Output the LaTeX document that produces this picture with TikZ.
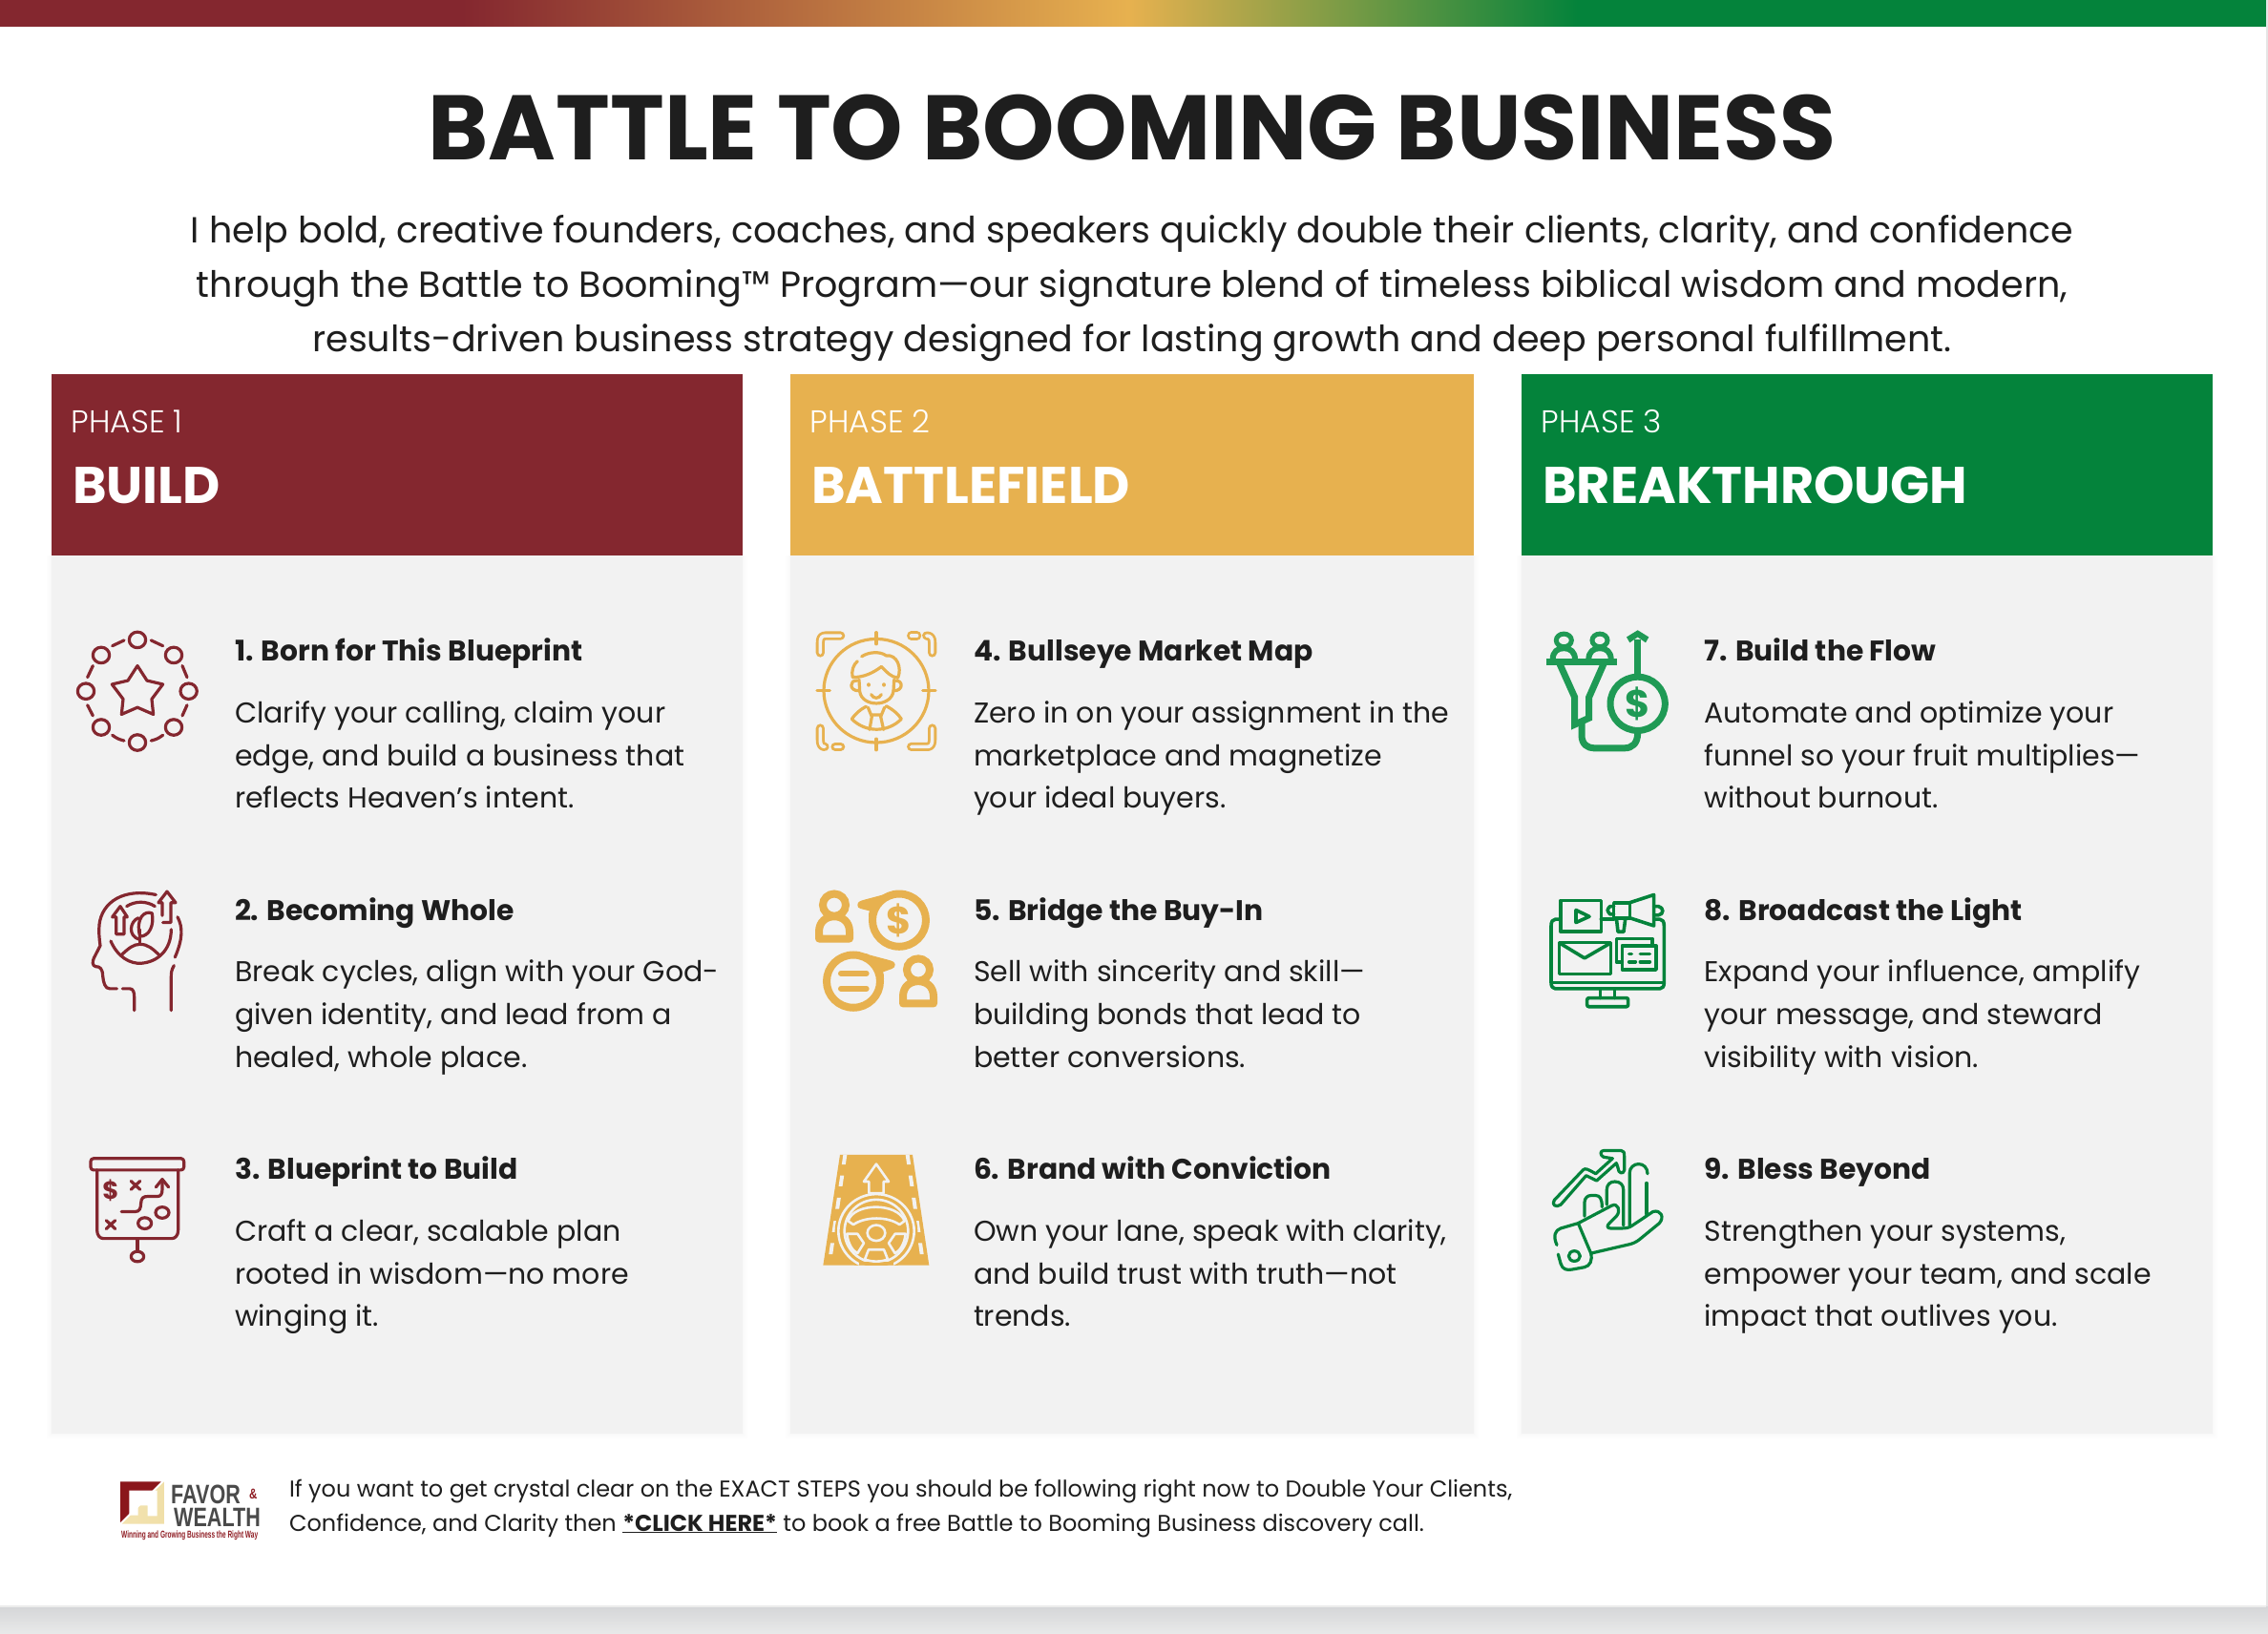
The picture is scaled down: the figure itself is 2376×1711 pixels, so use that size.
\documentclass[tikz,border=0pt]{standalone}
\usepackage{fontspec}
\setmainfont{Poppins}
\newfontfamily\popb{Poppins Bold}
\newfontfamily\popl{Poppins Light}
\newfontfamily\heros{Liberation Sans Bold}[FakeStretch=0.77]
\newfontfamily\herost{Liberation Sans Bold}[FakeStretch=0.62]
\definecolor{cred}{HTML}{84272F}
\definecolor{cgold}{HTML}{E7B14F}
\definecolor{cgreen}{HTML}{04833B}
\definecolor{cgreenb}{HTML}{1F9A55}
\definecolor{cpanel}{HTML}{F2F2F2}
\definecolor{cink}{HTML}{1E1E1E}
\definecolor{E5E5E5}{HTML}{E5E5E5}
\definecolor{D5D6D8}{HTML}{D5D6D8}
\definecolor{E8E9E9}{HTML}{E8E9E9}
\definecolor{ECECEC}{HTML}{ECECEC}
\definecolor{lgolda}{HTML}{F3E3B0}
\definecolor{lgoldb}{HTML}{DFAE35}
\definecolor{lgoldc}{HTML}{F0DFA8}
\definecolor{lred}{HTML}{8A161B}
\definecolor{lgray}{HTML}{4A4A4A}
\definecolor{ltag}{HTML}{8F1D24}
\pgfdeclarehorizontalshading{topbar}{100bp}{
  color(0bp)=(cred); color(35.2bp)=(cred); color(49.9bp)=(cgold); color(59.8bp)=(cgreen); color(100bp)=(cgreen)}
\newcommand\fs[1]{\fontsize{#1}{#1}\selectfont}
\tikzset{
  txt/.style={anchor=base west,inner sep=0pt,outer sep=0pt,text=cink},
  itemhead/.style={txt,font=\fs{29.75}\popb},
  itembody/.style={txt,font=\fs{30}},
  phaselab/.style={anchor=base west,inner sep=0pt,text=white,font=\fs{33}\popl},
  phasename/.style={anchor=base west,inner sep=0pt,text=white,font=\fs{54}\popb},
  subline/.style={anchor=base,inner sep=0pt,text=cink,font=\fs{38}},
  footline/.style={txt,font=\fs{24}},
  zA/.style={shift={(50pt,-620pt)},x=.3333pt,y=-.4847pt},
  zB/.style={shift={(830pt,-620pt)},x=.3333pt,y=-.4847pt},
  zC/.style={shift={(1600pt,-620pt)},x=.3333pt,y=-.4847pt},
  zL/.style={shift={(122pt,-1545pt)},x=.3333pt,y=-.3333pt},
  ic/.style={line width=3.2pt,line cap=round,line join=round,fill=none},
  hollow/.style={line width=2.8pt,double=cpanel,double distance=3.6pt,line cap=round,line join=round},
  icontxt/.style={inner sep=0pt,font=\popb},
}
\newcommand\stepitem[7]{%
  \node[itemhead] (#1t) at (#2,{#3-0.5}) {#4};
  \node[itembody] (#1a) at (#2,{#3+64}) {#5};
  \node[itembody] (#1b) at (#2,{#3+109}) {#6};
  \node[itembody] (#1c) at (#2,{#3+153.5}) {#7};
}
\newcommand\panel[5]{%
  \foreach \ee/\oo in {5/.006,3/.008,1/.01}{
    \fill[black,opacity=\oo] ({#1-\ee},{582}) rectangle ({#2+\ee},{1502+\ee});
  }
  \fill[cpanel] (#1,582) rectangle (#2,1502);
  \fill[#3] (#1,392) rectangle (#2,582);
  \node[phaselab] (#4l) at ({#1+20.5},453) {#5};
}
\begin{document}
\begin{tikzpicture}[x=1pt,y=-1pt]
\useasboundingbox (0,0) rectangle (2376,1711);
% page
\fill[white] (0,0) rectangle (2376,1711);
\shade[shading=topbar] (0,0) rectangle (2374,27.5);
\fill[E5E5E5] (2374,0) rectangle (2376,1683);
\shade[top color=D5D6D8,bottom color=E8E9E9] (0,1683) rectangle (2376,1711);
\fill[ECECEC] (0,1682) rectangle (2374,1684);
% title
\node[anchor=base,inner sep=0pt,text=cink,font=\fs{96}\popb] (title) at (1186,167) {BATTLE TO BOOMING BUSINESS};
\node[subline] (s1) at (1186,254.5) {I help bold, creative founders, coaches, and speakers quickly double their clients, clarity, and confidence};
\node[subline] (s2) at (1186,311.5) {through the Battle to Booming™ Program—our signature blend of timeless biblical wisdom and modern,};
\node[subline] (s3) at (1186,368.5) {results-driven business strategy designed for lasting growth and deep personal fulfillment.};
% panels
\panel{54}{778}{cred}{pa}{PHASE 1}
\panel{828}{1544}{cgold}{pb}{PHASE 2}
\panel{1594}{2318}{cgreen}{pc}{PHASE 3}
\node[phasename] (na) at (76,527) {BUILD};
\node[phasename] (nb) at (850,527) {BATTLEFIELD};
\node[phasename] (nc) at (1616,527) {BREAKTHROUGH};
% items
\stepitem{i1}{246}{693}{1. Born for This Blueprint}{Clarify your calling, claim your}{edge, and build a business that}{reflects Heaven’s intent.}
\stepitem{i2}{246}{964.5}{2. Becoming Whole}{Break cycles, align with your God-}{given identity, and lead from a}{healed, whole place.}
\stepitem{i3}{246}{1236}{3. Blueprint to Build}{Craft a clear, scalable plan}{rooted in wisdom—no more}{winging it.}
\stepitem{i4}{1020}{693}{4. Bullseye Market Map}{Zero in on your assignment in the}{marketplace and magnetize}{your ideal buyers.}
\stepitem{i5}{1020}{964.5}{5. Bridge the Buy-In}{Sell with sincerity and skill—}{building bonds that lead to}{better conversions.}
\stepitem{i6}{1020}{1236}{6. Brand with Conviction}{Own your lane, speak with clarity,}{and build trust with truth—not}{trends.}
\stepitem{i7}{1785.5}{693}{7. Build the Flow}{Automate and optimize your}{funnel so your fruit multiplies—}{without burnout.}
\stepitem{i8}{1785.5}{964.5}{8. Broadcast the Light}{Expand your influence, amplify}{your message, and steward}{visibility with vision.}
\stepitem{i9}{1785.5}{1236}{9. Bless Beyond}{Strengthen your systems,}{empower your team, and scale}{impact that outlives you.}
% footer
\node[footline] (f1) at (303,1568) {If you want to get crystal clear on the EXACT STEPS you should be following right now to Double Your Clients,};
\node[footline] (f2) at (303,1604) {Confidence, and Clarity then \underline{\popb *CLICK HERE*} to book a free Battle to Booming Business discovery call.};
% ---------- icon 1
\begin{scope}[zA,ic,draw=cred]
  \foreach \p in {(282,104),(168,137),(396,137),(120,215),(443,215),(168,293),(396,293),(282,326)}
    \draw \p ellipse [x radius=26,y radius=17];
  \draw (203,117) .. controls (222,110) .. (240,105);
  \draw (325,105) .. controls (345,110) .. (362,117);
  \draw (423,160) .. controls (432,172) .. (438,185);
  \draw (438,245) .. controls (432,258) .. (423,268);
  \draw (362,310) .. controls (345,318) .. (325,322);
  \draw (240,322) .. controls (220,318) .. (203,310);
  \draw (142,268) .. controls (132,258) .. (125,245);
  \draw (125,185) .. controls (132,172) .. (142,160);
  \draw (282,160) -- (312,192) -- (362,200) -- (327,232) -- (332,265) -- (282,250) -- (232,265) -- (237,232) -- (202,200) -- (252,192) -- cycle;
% ---------- icon 2
  \draw (235,858) -- (258,858) .. controls (268,858) and (272,865) .. (272,875) -- (272,905);
  \draw (217,858) -- (195,858) .. controls (180,858) and (175,845) .. (173,830) .. controls (172,815) and (165,810) .. (150,810) .. controls (140,808) and (140,800) .. (145,792) -- (165,765) .. controls (162,750) and (160,735) .. (162,720) .. controls (170,670) and (240,640) .. (340,655);
  \draw (408,703) .. controls (425,725) and (425,750) .. (400,790);
  \draw (397,808) .. controls (388,818) and (388,825) .. (388,835) -- (388,905);
  \draw (198,755) .. controls (220,790) and (260,805) .. (295,803) .. controls (345,800) and (388,775) .. (388,730);
  \draw (248,680) .. controls (275,668) and (310,668) .. (337,680);
  \draw (232,785) .. controls (255,770) and (270,762) .. (290,762) .. controls (315,762) and (330,772) .. (350,785);
  \draw (290,762) -- (290,730);
  \draw (290,745) .. controls (320,745) and (335,720) .. (328,695) .. controls (305,688) and (275,705) .. (290,745);
  \draw (285,705) .. controls (258,712) and (250,745) .. (290,752);
  \draw (228,680) -- (250,703) -- (240,703) -- (240,740) -- (215,740) -- (215,703) -- (203,703) -- cycle;
  \draw (360,700) -- (360,672) -- (348,672) -- (375,648) -- (402,672) -- (387,672) -- (387,715) -- (362,715);
% ---------- icon 3
  \draw[rounded corners=3pt] (135,1225) rectangle (428,1250);
  \draw (155,1250) -- (155,1380) .. controls (155,1392) and (165,1398) .. (175,1398) -- (390,1398) .. controls (400,1398) and (410,1392) .. (410,1380) -- (410,1250);
  \draw (282,1398) -- (282,1425);
  \draw (282,1437) ellipse [x radius=20,y radius=11];
  \node[icontxt,text=cred,font=\fs{26}\popb] (d3) at (198,1295) {\$};
  \draw (262,1274) -- (290,1292) (290,1274) -- (262,1292);
  \draw (184,1359) -- (212,1377) (212,1359) -- (184,1377);
  \draw (232,1340) -- (275,1340) .. controls (290,1340) and (292,1332) .. (293,1322) .. controls (294,1310) and (300,1307) .. (315,1307) -- (345,1307) .. controls (355,1307) and (360,1302) .. (360,1292) -- (360,1272);
  \draw (340,1287) -- (360,1270) -- (380,1287);
  \draw (305,1365) ellipse [x radius=21,y radius=12];
  \draw (360,1342) ellipse [x radius=21,y radius=12];
\end{scope}
% ---------- icon 4
\begin{scope}[zB,draw=cgold]
  \draw[hollow] (88,132) -- (88,110) .. controls (88,100) and (92,95) .. (105,95) -- (152,95);
  \draw[hollow] (374,95) -- (392,95);
  \draw[hollow] (422,95) .. controls (435,95) and (440,100) .. (440,110) -- (440,132);
  \draw[hollow] (88,295) -- (88,320) .. controls (88,330) and (92,335) .. (102,335);
  \draw[hollow] (135,335) -- (152,335);
  \draw[hollow] (374,335) -- (425,335) .. controls (435,335) and (440,330) .. (440,320) -- (440,295);
  \begin{scope}[ic]
  \draw (264,214) ellipse [x radius=165,y radius=112];
  \draw (264,88) -- (264,113) (264,318) -- (264,342) (78,214) -- (118,214) (410,214) -- (450,214);
  \draw (210,190) -- (212,215) .. controls (218,250) and (310,250) .. (318,215) -- (320,190);
  \draw (218,140) .. controls (240,130) and (275,128) .. (295,138) .. controls (330,135) and (345,165) .. (332,186);
  \draw (280,162) .. controls (295,172) and (310,185) .. (332,186);
  \draw (280,162) .. controls (255,175) and (225,185) .. (190,185) .. controls (185,170) and (192,158) .. (205,150);
  \draw (205,192) .. controls (178,190) and (178,215) .. (210,214);
  \draw (322,192) .. controls (350,190) and (350,215) .. (318,214);
  \fill[cgold] (240,201) ellipse [x radius=6,y radius=4.5];
  \fill[cgold] (288,201) ellipse [x radius=6,y radius=4.5];
  \draw (248,222) .. controls (255,232) and (273,232) .. (280,222);
  \draw (232,248) .. controls (212,255) and (197,265) .. (187,275) .. controls (230,305) and (300,305) .. (343,275) .. controls (333,265) and (318,255) .. (295,247);
  \draw (238,250) -- (250,270) -- (243,298) (290,250) -- (278,270) -- (287,298) (250,266) -- (278,266);
  \end{scope}
\end{scope}
% ---------- icon 5
\begin{scope}[zB,draw=cgold,fill=cgold]
  \foreach \dx/\dy in {0/0,264/140}{
  \begin{scope}[shift={({\dx/3*1pt},{-\dy*.4847pt})}]
    \draw[line width=8pt,fill=none] (132,677) ellipse [x radius=36,y radius=24];
    \draw[line width=8pt,fill=none,line join=round] (84,750) -- (84,735) .. controls (84,712) and (108,702) .. (132,702) .. controls (156,702) and (180,712) .. (180,735) -- (180,750) -- cycle;
  \end{scope}}
  \draw[line width=8pt,fill=none] (336,710) ellipse [x radius=84,y radius=57];
  \fill (205,677) .. controls (205,670) and (215,668) .. (225,666) -- (285,655) .. controls (300,650) .. (320,660) -- (262,680) .. controls (268,690) .. (262,705) -- (240,705) .. controls (240,695) .. (243,690) -- (215,685) .. controls (208,684) and (205,682) .. (205,677) -- cycle;
  \node[icontxt,text=cgold,font=\fs{40}\popb] (d5) at (336,710) {\$};
  \draw[line width=8pt,fill=none] (192,842) ellipse [x radius=84,y radius=57];
  \fill (323,806) .. controls (323,800) and (313,798) .. (303,796) -- (243,785) .. controls (228,780) .. (208,790) -- (266,812) .. controls (260,822) .. (266,837) -- (288,837) .. controls (288,827) .. (285,822) -- (313,815) .. controls (320,813) and (323,811) .. (323,806) -- cycle;
  \draw[line width=6pt,line cap=round,fill=none] (153,825) -- (233,825) (153,858) -- (233,858);
\end{scope}
% ---------- icon 6
\begin{scope}[zB]
  \fill[cgold] (150,1217) -- (378,1217) -- (430,1456) -- (97,1456) -- cycle;
  \begin{scope}
    \clip (150,1217) -- (378,1217) -- (430,1456) -- (97,1456) -- cycle;
    \foreach \ya/\yb in {1217/1238,1262/1285,1310/1334,1360/1384,1408/1432}{
      \pgfmathsetmacro\xa{166-(\ya-1217)*.21}
      \pgfmathsetmacro\xb{166-(\yb-1217)*.21}
      \fill[cpanel] (\xa-6,\ya) -- (\xa+6,\ya) -- (\xb+6,\yb) -- (\xb-6,\yb) -- cycle;
      \fill[cpanel] (528-\xa-6,\ya) -- (528-\xa+6,\ya) -- (528-\xb+6,\yb) -- (528-\xb-6,\yb) -- cycle;
    }
    \draw[cgold,fill=cgold,line width=8pt] (264,1382) ellipse [x radius=118,y radius=78];
    \draw[cpanel,line width=2.6pt] (264,1382) ellipse [x radius=119,y radius=80];
    \draw[cpanel,line width=2.6pt] (264,1382) ellipse [x radius=100,y radius=68];
    \fill[cgold] (210,1448) rectangle (318,1460);
    \draw[cpanel,line width=2.6pt,line join=round] (264,1237) -- (303,1275) -- (287,1275) -- (287,1300) -- (241,1300) -- (241,1275) -- (225,1275) -- cycle;
    \draw[cpanel,line width=2.6pt,line join=round] (175,1360) .. controls (195,1320) and (330,1320) .. (353,1360) -- (337,1368) .. controls (300,1350) and (230,1350) .. (192,1368) -- cycle;
    \draw[cpanel,line width=2.6pt] (264,1386) ellipse [x radius=28,y radius=17];
    \draw[cpanel,line width=2.6pt,line join=round] (172,1388) -- (205,1388) -- (225,1408) -- (205,1430) .. controls (190,1425) and (175,1410) .. (172,1388) -- cycle;
    \draw[cpanel,line width=2.6pt,line join=round] (356,1388) -- (323,1388) -- (303,1408) -- (323,1430) .. controls (338,1425) and (353,1410) .. (356,1388) -- cycle;
    \draw[cpanel,line width=2.6pt,line join=round] (240,1422) -- (288,1422) -- (300,1443) .. controls (280,1449) and (248,1449) .. (228,1443) -- cycle;
  \end{scope}
\end{scope}
% ---------- icon 7
\begin{scope}[zC,draw=cgreenb]
  \foreach \dx in {0,113}{
  \begin{scope}[shift={({\dx/3*1pt},0pt)}]
    \draw[line width=5pt] (115,105) ellipse [x radius=24,y radius=14];
    \draw[line width=6pt,line join=round] (80,146) .. controls (80,130) and (95,122) .. (115,122) .. controls (135,122) and (150,130) .. (150,146);
  \end{scope}}
  \draw[line width=7pt] (60,151) -- (282,151);
  \draw[line width=7pt,line join=miter] (102,156) -- (149,228) -- (149,287) -- (194,273) -- (194,228) -- (240,156);
  \draw[line width=7pt,line join=round] (171,282) -- (171,310) .. controls (171,330) and (190,338) .. (210,338) -- (305,338) .. controls (330,338) and (347,328) .. (347,305);
  \draw[line width=7pt] (347,242) ellipse [x radius=86,y radius=58];
  \draw[line width=7pt] (347,104) -- (347,182);
  \fill[cgreenb] (312,98) -- (347,83) -- (382,98) -- (372,110) -- (347,98) -- (322,110) -- cycle;
  \node[icontxt,text=cgreenb,font=\fs{40}\popb] (d7) at (347,242) {\$};
\end{scope}
% ---------- icon 8
\begin{scope}[zC,ic,draw=cgreen,line width=3.6pt]
  \draw (103,708) -- (88,708) .. controls (80,708) and (75,713) .. (75,722) -- (75,845) .. controls (75,853) and (80,858) .. (88,858) -- (417,858) .. controls (425,858) and (430,853) .. (430,845) -- (430,722) .. controls (430,713) and (425,708) .. (417,708) -- (402,708);
  \draw[line width=2.6pt] (78,845) -- (428,845);
  \draw (230,860) -- (230,878) (275,860) -- (275,878);
  \draw[rounded corners=2pt] (188,878) rectangle (317,897);
  \draw (105,667) rectangle (232,735);
  \draw (153,688) -- (195,702) -- (153,715) -- cycle;
  \draw (232,708) -- (272,708);
  \draw (272,672) rectangle (322,705);
  \draw (322,672) -- (398,655) -- (398,722) -- (322,705);
  \draw (280,705) -- (285,735) -- (303,735) -- (308,708);
  \draw (272,680) -- (260,680) .. controls (250,688) .. (260,697) -- (272,697);
  \draw (398,680) -- (412,680) .. controls (430,682) and (430,698) .. (412,699) -- (398,699);
  \draw (100,758) rectangle (262,826);
  \draw (108,762) -- (180,792) -- (255,762);
  \draw (298,800) -- (280,800) -- (280,750) -- (393,750) -- (393,765);
  \draw (298,765) rectangle (405,817);
  \draw (320,783) -- (328,783) (355,783) -- (385,783) (320,800) -- (340,800) (355,800) -- (385,800);
\end{scope}
% ---------- icon 9
\begin{scope}[zC,ic,draw=cgreen]
  \draw (85,1315) -- (175,1250) .. controls (182,1245) and (190,1248) .. (215,1258) -- (268,1225) -- (240,1222) .. controls (228,1218) and (228,1208) .. (240,1208) -- (295,1208) .. controls (303,1208) and (305,1212) .. (305,1220) -- (305,1250) .. controls (303,1260) and (285,1258) .. (285,1245) -- (280,1235) -- (218,1273) -- (185,1262) -- (105,1325) .. controls (90,1332) and (75,1325) .. (85,1315) -- cycle;
  \draw (180,1350) -- (180,1320) .. controls (180,1310) and (190,1305) .. (200,1305) -- (215,1305) .. controls (228,1305) and (235,1312) .. (235,1330);
  \draw (250,1325) -- (250,1292) .. controls (250,1282) and (260,1275) .. (275,1275) .. controls (292,1275) and (302,1282) .. (302,1292) -- (302,1370);
  \draw (322,1370) -- (322,1255) .. controls (322,1245) and (335,1237) .. (350,1237) .. controls (365,1237) and (378,1245) .. (378,1258);
  \draw (375,1278) -- (375,1345);
  \draw (160,1365) -- (105,1376) .. controls (88,1380) and (80,1392) .. (93,1412);
  \draw (97,1432) -- (105,1452) .. controls (110,1465) and (125,1467) .. (140,1465) -- (180,1460) .. controls (198,1457) and (205,1445) .. (200,1430) -- (325,1410) .. controls (340,1407) and (350,1402) .. (360,1396) -- (415,1365) .. controls (432,1352) and (420,1335) .. (395,1340) -- (330,1370) .. controls (320,1375) and (310,1376) .. (295,1376) -- (262,1376) .. controls (250,1376) and (250,1370) .. (258,1365) -- (280,1350) .. controls (295,1338) and (285,1320) .. (265,1327) -- (160,1365) -- (200,1430);
  \draw (148,1436) ellipse [x radius=18,y radius=11];
\end{scope}
% ---------- logo
\begin{scope}[zL]
  \shade[left color=lgolda,middle color=lgoldb,right color=lgoldc] (150,22) -- (150,155) -- (17,155) -- cycle;
  \fill[lred] (12,22) -- (140,22) -- (12,150) -- cycle;
  \fill[white] (40,50) -- (128,50) -- (128,130) -- (98,130) -- (98,97) -- (68,97) -- (68,128) -- (40,128) -- cycle;
\end{scope}
\node[anchor=base west,inner sep=0pt,text=lgray,font=\fs{28}\heros] (l1) at (179,1575) {FAVOR};
\node[anchor=base west,inner sep=0pt,text=ltag,font=\fs{15}\heros] (l2) at (261,1570) {\&};
\node[anchor=base west,inner sep=0pt,text=lgray,font=\fs{28}\heros] (l3) at (182,1599) {WEALTH};
\node[anchor=base west,inner sep=0pt,text=ltag,font=\fs{10.5}\herost] (l4) at (127,1611.5) {Winning and Growing Business the Right Way};
\end{tikzpicture}
\end{document}
